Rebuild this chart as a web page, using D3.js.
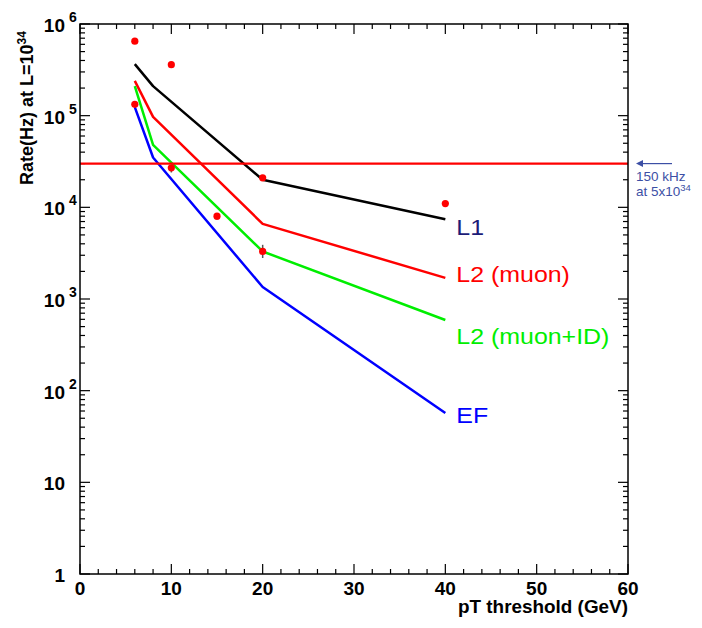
<!DOCTYPE html>
<html>
<head>
<meta charset="utf-8">
<script src="https://cdn.jsdelivr.net/npm/d3@7"></script>
<style>
  body { margin: 0; background: #fff; }
  svg text { font-family: "Liberation Sans", Arial, Helvetica, sans-serif; }
</style>
</head>
<body>
<svg id="chart" width="702" height="628"></svg>
<script>
// Chart data
let thresholds = [6, 8, 20, 40]
let rateL1 = [3.65e5, 2.1e5, 2.0e4, 7.4e3]
let rateL2mu = [2.4e5, 9.7e4, 6.6e3, 1.7e3]
let rateL2muID = [2.1e5, 4.8e4, 3.3e3, 5.9e2]
let rateEF = [1.24e5, 3.5e4, 1.35e3, 57]

let seriesNames = ["L1", "L2 (muon)", "L2 (muon+ID)", "EF"]
let seriesColors = ["#000000", "#ff0000", "#00ee00", "#0000ff"]
let labelColors = ["#1c1c78", "#ff0000", "#00ee00", "#0000ff"]

// measured points (red dots) with error bars
let ptX = [6, 6, 10, 10, 15, 20, 20, 40]
let ptY = [6.5e5, 1.33e5, 3.6e5, 2.7e4, 8.0e3, 2.1e4, 3.3e3, 1.1e4]
let ptLo = [null, null, null, 2.4e4, 7.3e3, null, 2.8e3, null]
let ptHi = [null, null, null, 2.9e4, 8.7e3, null, 3.9e3, null]

let rateLimit = 3e4
let xTicks = [0, 10, 20, 30, 40, 50, 60]
let yDecades = [0, 1, 2, 3, 4, 5, 6]

// Layout
let padL = 80, padR = 628, padT = 24, padB = 574
let labelShift = [16, 4, 24, 10]   // label baseline below the line end, px
let svg = d3.select("#chart")

let x = d3.scaleLinear().domain([0, 60]).range([padL, padR])
let y = d3.scaleLog().domain([1, 1e6]).range([padB, padT])

// Ticks on all four sides
let xMinor = d3.range(0, 61, 2).filter(v => v % 10 !== 0)
let yMinor = []
for (let e = 0; e < 6; e++)
    for (let m = 2; m <= 9; m++) yMinor.push(m * Math.pow(10, e))

let ticks = svg.append("g").attr("stroke", "#000").attr("stroke-width", 1.2)
function xTick(v, len) {
    ticks.append("line").attr("x1", x(v)).attr("x2", x(v)).attr("y1", padB).attr("y2", padB - len)
    ticks.append("line").attr("x1", x(v)).attr("x2", x(v)).attr("y1", padT).attr("y2", padT + len)
}
function yTick(v, len) {
    ticks.append("line").attr("y1", y(v)).attr("y2", y(v)).attr("x1", padL).attr("x2", padL + len)
    ticks.append("line").attr("y1", y(v)).attr("y2", y(v)).attr("x1", padR).attr("x2", padR - len)
}
xTicks.forEach(v => xTick(v, 10))
xMinor.forEach(v => xTick(v, 5))
yDecades.forEach(e => yTick(Math.pow(10, e), 10))
yMinor.forEach(v => yTick(v, 5))

// Series lines
let line = d3.line().x(d => x(d[0])).y(d => y(d[1]))
let allRates = [rateL1, rateL2mu, rateL2muID, rateEF]
allRates.forEach((r, i) => {
    svg.append("path")
        .attr("d", line(thresholds.map((t, j) => [t, r[j]])))
        .attr("fill", "none")
        .attr("stroke", seriesColors[i])
        .attr("stroke-width", 2.5)
        .attr("stroke-linejoin", "round")
})

// Series labels at the end of each line (font is a bit stretched in the original)
allRates.forEach((r, i) => {
    let lx = x(thresholds[3]) + 11
    let ly = y(r[3]) + labelShift[i]
    svg.append("text")
        .attr("transform", `translate(${lx},${ly}) scale(1.16,1)`)
        .attr("fill", labelColors[i])
        .attr("font-size", 21.5)
        .text(seriesNames[i])
})

// 150 kHz limit line
svg.append("line")
    .attr("x1", padL).attr("x2", padR)
    .attr("y1", y(rateLimit)).attr("y2", y(rateLimit))
    .attr("stroke", "#ff0000").attr("stroke-width", 2.2)

// Error bars and measured points
ptX.forEach((v, i) => {
    if (ptLo[i] !== null)
        svg.append("line")
            .attr("x1", x(v)).attr("x2", x(v))
            .attr("y1", y(ptLo[i])).attr("y2", y(ptHi[i]))
            .attr("stroke", "#555").attr("stroke-width", 1.5)
})
svg.selectAll("circle.pt")
    .data(ptX.map((v, i) => [v, ptY[i]]))
    .enter()
    .append("circle")
    .attr("class", "pt")
    .attr("cx", d => x(d[0]))
    .attr("cy", d => y(d[1]))
    .attr("r", 3.6)
    .attr("fill", "#ff0000")

// Frame
svg.append("rect")
    .attr("x", padL).attr("y", padT)
    .attr("width", padR - padL).attr("height", padB - padT)
    .attr("fill", "none").attr("stroke", "#000").attr("stroke-width", 1.5)

// X tick labels
svg.selectAll("text.xl")
    .data(xTicks)
    .enter()
    .append("text")
    .attr("class", "xl")
    .attr("x", d => x(d))
    .attr("y", padB + 21)
    .attr("text-anchor", "middle")
    .attr("font-size", 19)
    .attr("font-weight", "bold")
    .text(d => d)

// Y tick labels (10 with exponent)
yDecades.forEach(e => {
    let yy = y(Math.pow(10, e)) + 8
    let base = e === 0 ? "1" : "10"
    svg.append("text")
        .attr("x", 65).attr("y", yy)
        .attr("text-anchor", "end")
        .attr("font-size", 19).attr("font-weight", "bold")
        .text(base)
    if (e >= 2)
        svg.append("text")
            .attr("x", 69).attr("y", yy - 10)
            .attr("font-size", 14).attr("font-weight", "bold")
            .text(e)
})

// Axis titles
svg.append("text")
    .attr("x", padR).attr("y", 613)
    .attr("text-anchor", "end")
    .attr("font-size", 18).attr("font-weight", "bold")
    .attr("textLength", 170).attr("lengthAdjust", "spacingAndGlyphs")
    .text("pT threshold (GeV)")

let yt = svg.append("text")
    .attr("transform", "translate(33,185) rotate(-90)")
    .attr("font-size", 18).attr("font-weight", "bold")
yt.append("tspan").text("Rate(Hz) at L=10")
yt.append("tspan").attr("dy", -7).attr("font-size", 12).text("34")

// Annotation on the right
let annColor = "#3c4fa5"
svg.append("line")
    .attr("x1", 640).attr("x2", 672)
    .attr("y1", y(rateLimit)).attr("y2", y(rateLimit))
    .attr("stroke", annColor).attr("stroke-width", 1.2)
svg.append("path")
    .attr("d", `M636,${y(rateLimit)} l7,-3.5 l0,7 z`)
    .attr("fill", annColor)
svg.append("text")
    .attr("x", 636).attr("y", 181)
    .attr("font-size", 13.5).attr("fill", annColor)
    .text("150 kHz")
let at = svg.append("text")
    .attr("x", 636).attr("y", 196)
    .attr("font-size", 13.5).attr("fill", annColor)
at.append("tspan").text("at 5x10")
at.append("tspan").attr("dy", -5).attr("font-size", 9.5).text("34")
</script>
</body>
</html>
